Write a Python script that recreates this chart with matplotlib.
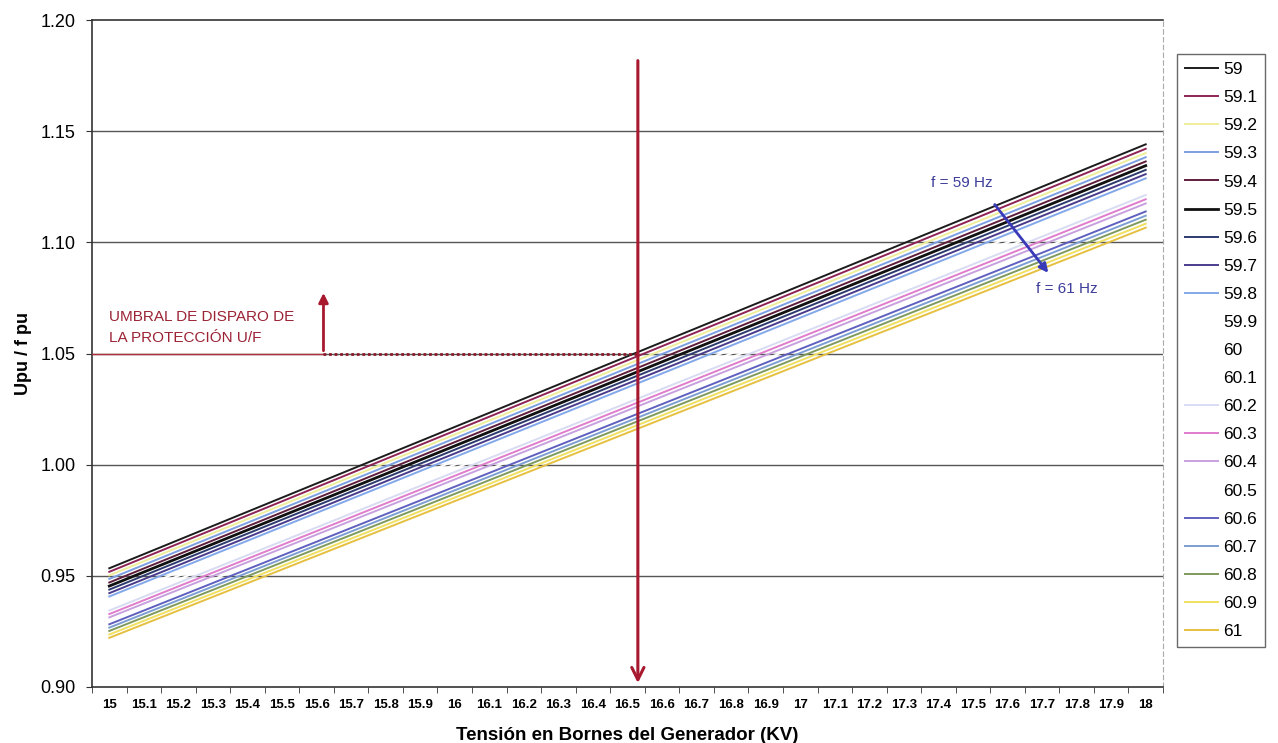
import matplotlib
matplotlib.use("Agg")
import matplotlib.pyplot as plt

plt.rcParams['font.family'] = ['Liberation Sans', 'DejaVu Sans']

# categories on the x axis (kV)
tension = ['15', '15.1', '15.2', '15.3', '15.4', '15.5', '15.6', '15.7', '15.8', '15.9',
           '16', '16.1', '16.2', '16.3', '16.4', '16.5', '16.6', '16.7', '16.8', '16.9',
           '17', '17.1', '17.2', '17.3', '17.4', '17.5', '17.6', '17.7', '17.8', '17.9', '18']

# one straight line per frequency (Hz): value at 15 kV and at 18 kV
freqs = ['59', '59.1', '59.2', '59.3', '59.4', '59.5', '59.6', '59.7', '59.8', '59.9', '60',
         '60.1', '60.2', '60.3', '60.4', '60.5', '60.6', '60.7', '60.8', '60.9', '61']
upu_15kv = [0.9534, 0.9518, 0.9502, 0.9486, 0.9470, 0.9454, 0.9438, 0.9422, 0.9407, 0.9391, 0.9375,
            0.9359, 0.9344, 0.9328, 0.9313, 0.9298, 0.9282, 0.9267, 0.9252, 0.9236, 0.9221]
upu_18kv = [1.1441, 1.1421, 1.1402, 1.1383, 1.1364, 1.1345, 1.1326, 1.1307, 1.1288, 1.1269, 1.1250,
            1.1231, 1.1213, 1.1194, 1.1175, 1.1157, 1.1139, 1.1120, 1.1102, 1.1084, 1.1066]

colors = ['#1c1c1c', '#8e2456', '#eeee9a', '#7c9fe2', '#5e1e3c', '#111111', '#2c3a6e', '#4a3c8c',
          '#82a8ea', '#ffffff', '#ffffff', '#ffffff', '#d8dcf2', '#e07ccc', '#c8a0e0', '#ffffff',
          '#5f60bf', '#7d9ed2', '#7f9a5c', '#f0e060', '#e6c040']
widths = [1.4] * len(freqs)
widths[5] = 2.0

umbral = 1.05
v_disparo = 16.53
v_flecha = 15.62

fig = plt.figure(figsize=(12.78, 7.43), dpi=100)
ax = fig.add_axes([0.072, 0.0754, 0.838, 0.8976])

for y in [0.95, 1.00, 1.05, 1.10, 1.15]:
    ax.axhline(y, color='#555555', lw=1.0, zorder=1)

x_ends = [float(tension[0]), float(tension[-1])]
for f, y0, y1, c, w in zip(freqs, upu_15kv, upu_18kv, colors, widths):
    ax.plot(x_ends, [y0, y1], color=c, lw=w, label=f, zorder=3)

# umbral de disparo
red = '#a8182e'
ax.plot([14.95, v_flecha], [umbral, umbral], color='#b03040', lw=1.0, zorder=4)
ax.plot([v_flecha, v_disparo], [umbral, umbral], color='#8a1a2a', lw=2.0, ls=(0, (1, 1)), zorder=4)
ax.annotate('', xy=(v_flecha, 1.0785), xytext=(v_flecha, umbral),
            arrowprops=dict(arrowstyle='-|>', color=red, lw=2, mutation_scale=14), zorder=5)
ax.annotate('', xy=(v_disparo, 0.9005), xytext=(v_disparo, 1.183),
            arrowprops=dict(arrowstyle='->', color=red, lw=2.2, mutation_scale=22), zorder=5)
ax.text(15.0, 1.0617, 'UMBRAL DE DISPARO DE\nLA PROTECCIÓN U/F', color='#9b2335',
        fontsize=11, ha='left', va='center', linespacing=1.55, zorder=5)

# direccion de frecuencia
blue = '#3a3ab8'
ax.annotate('', xy=(17.723, 1.0853), xytext=(17.558, 1.118),
            arrowprops=dict(arrowstyle='-|>', color=blue, lw=2, mutation_scale=13), zorder=5)
ax.text(17.468, 1.1267, 'f = 59 Hz', color='#3d3d9a', fontsize=11, ha='center', va='center')
ax.text(17.772, 1.079, 'f = 61 Hz', color='#3d3d9a', fontsize=11, ha='center', va='center')

ax.set_xlim(14.95, 18.05)
ax.set_ylim(0.90, 1.20)
ax.set_yticks([0.90, 0.95, 1.00, 1.05, 1.10, 1.15, 1.20])
ax.set_yticklabels([f'{v:.2f}' for v in [0.90, 0.95, 1.00, 1.05, 1.10, 1.15, 1.20]], fontsize=13)
ax.set_xticks([float(t) for t in tension])
ax.set_xticklabels(tension, fontsize=9.5, fontweight='bold',
                   family=['Liberation Sans Narrow', 'Liberation Sans', 'DejaVu Sans'])
ax.set_xticks([float(t) - 0.05 for t in tension] + [18.05], minor=True)
ax.tick_params(axis='x', which='major', length=0, pad=9)
ax.tick_params(axis='x', which='minor', length=4, color='#333333')
ax.tick_params(axis='y', length=4, color='#333333', pad=8)

for s in ['left', 'bottom', 'top']:
    ax.spines[s].set_color('#333333')
    ax.spines[s].set_linewidth(1.2)
ax.spines['right'].set_color('#aaaaaa')
ax.spines['right'].set_linestyle((0, (4, 3)))

ax.set_ylabel('Upu / f pu', fontsize=13, fontweight='bold', labelpad=6)
ax.set_xlabel('Tensión en Bornes del Generador (KV)', fontsize=13.5, fontweight='bold', labelpad=11)

leg = fig.legend(loc='upper left', bbox_to_anchor=(0.921, 0.927), fontsize=12.5,
                 frameon=True, fancybox=False, handlelength=1.9, handletextpad=0.3,
                 labelspacing=0.745, borderpad=0.45, borderaxespad=0)
leg.get_frame().set_edgecolor('#444444')
leg.get_frame().set_linewidth(1.0)

fig.savefig('out.png', dpi=100)
